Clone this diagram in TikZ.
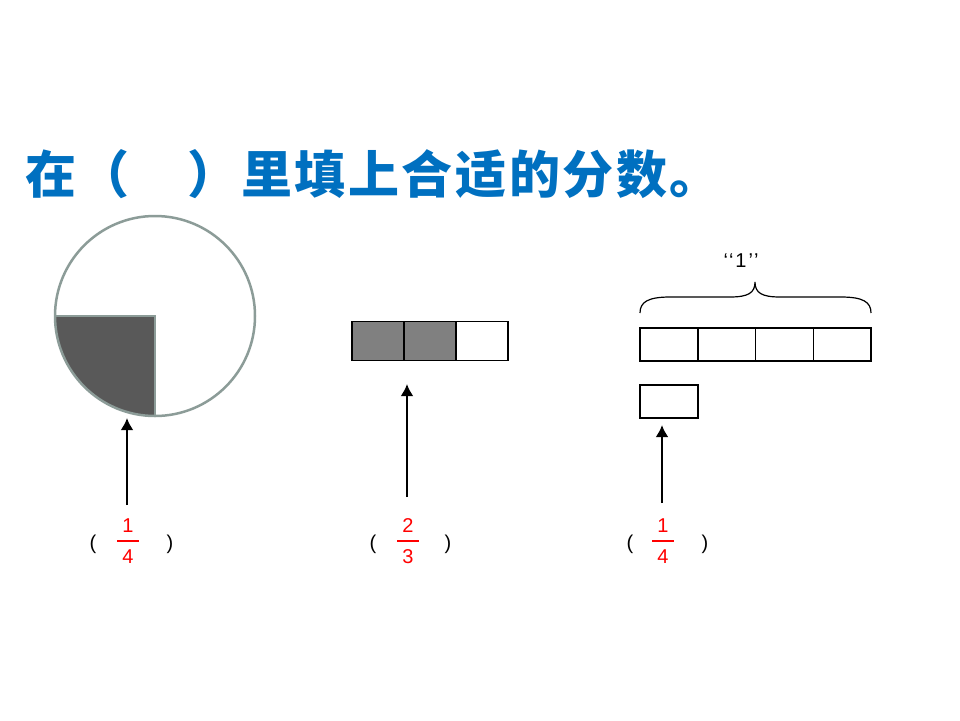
\documentclass[tikz,border=0pt]{standalone}
\usepackage{fontspec}
\setmainfont{Liberation Sans}
\newfontfamily\cjk{Noto Sans CJK SC}[LetterSpace=5]
\usetikzlibrary{positioning,arrows.meta}
\definecolor{titleblue}{RGB}{0,112,192}
\definecolor{rimgray}{RGB}{140,156,152}
\definecolor{darkpart}{RGB}{89,89,89}
\definecolor{midpart}{RGB}{128,128,128}
\tikzset{
  cell/.style={draw,line width=1.3pt,outer sep=0pt,minimum width=52pt,minimum height=39pt,inner sep=0pt},
  qcell/.style={draw,line width=1.3pt,outer sep=0pt,minimum width=57.75pt,minimum height=33pt,inner sep=0pt},
  frac/.style={text=red,align=center,font=\fontsize{20}{24}\selectfont,inner sep=0pt},
  paren/.style={font=\fontsize{20}{24}\selectfont,inner sep=0pt},
  pointer/.style={->,line width=2.8pt}
}
\begin{document}
\begin{tikzpicture}[x=1pt,y=-1pt,>={Latex[length=12pt,width=13pt]}]
  \fill[white] (0,0) rectangle (960,720);
  \useasboundingbox (0,0) rectangle (960,720);
  \node[anchor=base west,text=titleblue,inner sep=0pt,font=\fontsize{51}{60}\selectfont\cjk\bfseries]
    (title) at (25,193) {在（\hspace{58pt}）里填上合适的分数。};
  % quarter of a circle
  \fill[darkpart] (155,316) -- (55,316) arc (180:90:100) -- cycle;
  \draw[rimgray,line width=2.5pt] (55,316) -- (155,316) -- (155,416);
  \draw[rimgray,line width=2.5pt] (155,316) circle (100);
  \coordinate (c1) at (127,418);
  % two thirds of a strip
  \node[cell,fill=midpart] (a1) at (378,341) {};
  \node[cell,fill=midpart,right=0pt of a1] (a2) {};
  \node[cell,right=0pt of a2] (a3) {};
  \coordinate (c2) at (407,384);
  % four parts, one of them
  \node[qcell] (b1) at (669,344.5) {};
  \node[qcell,right=0pt of b1] (b2) {};
  \node[qcell,right=0pt of b2] (b3) {};
  \node[qcell,right=0pt of b3] (b4) {};
  \node[qcell,below=24pt of b1] (b0) {};
  \coordinate (c3) at (662,425);
  \draw[line width=1.2pt] (640,313)
    .. controls (640,302) and (648,297) .. (670,297) -- (730,297)
    .. controls (748,297) and (755,293) .. (755,282)
    .. controls (755,293) and (762,297) .. (780,297) -- (841,297)
    .. controls (863,297) and (871,302) .. (871,313);
  \node[paren,anchor=base] (one) at (741,267) {‘\kern1pt‘\kern2pt1\kern2pt’\kern1pt’};
  % answers
  \node[frac] (f1) at (128,541) {1\\[-14.7pt]\rule{22pt}{1.6pt}\\[-2.3pt]4};
  \node[paren] (l1) at (93,544) {(};
  \node[paren] (r1) at (170,544) {)};
  \node[frac] (f2) at (408,541) {2\\[-14.7pt]\rule{22pt}{1.6pt}\\[-2.3pt]3};
  \node[paren] (l2) at (373,544) {(};
  \node[paren] (r2) at (448,544) {)};
  \node[frac] (f3) at (663,541) {1\\[-14.7pt]\rule{22pt}{1.6pt}\\[-2.3pt]4};
  \node[paren] (l3) at (630,544) {(};
  \node[paren] (r3) at (705,544) {)};
  \coordinate (s1) at (127,505);
  \coordinate (s2) at (407,497);
  \coordinate (s3) at (662,503);
  \draw[pointer] (s1) -- (c1);
  \draw[pointer] (s2) -- (c2);
  \draw[pointer] (s3) -- (c3);
\end{tikzpicture}
\end{document}
